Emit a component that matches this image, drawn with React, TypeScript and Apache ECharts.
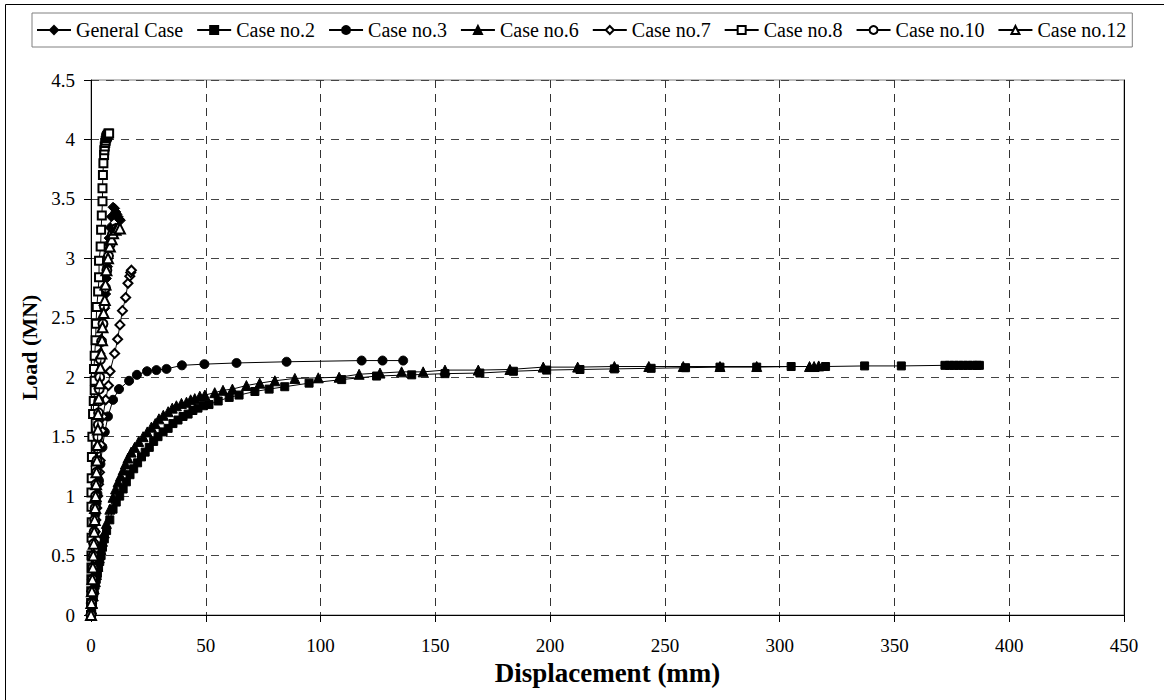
import React, { useEffect, useRef } from "react";
import * as echarts from "echarts";

const FONT = "'Liberation Serif','Times New Roman',serif";

const seriesNames = [
  "General Case",
  "Case no.2",
  "Case no.3",
  "Case no.6",
  "Case no.7",
  "Case no.8",
  "Case no.10",
  "Case no.12",
];

const seriesSymbols = [
  "diamond",
  "rect",
  "circle",
  "triangle",
  "emptyDiamond",
  "emptyRect",
  "emptyCircle",
  "emptyTriangle",
];

const seriesSymbolSizes = [10, 8, 9, 10, 9, 8, 9, 10];

const xTicks = { min: 0, max: 450, interval: 50 };
const yTicks = { min: 0, max: 4.5, interval: 0.5 };

const generalCase = [
  [0, 0], [0.2, 0.1], [0.4, 0.2], [0.6, 0.3], [0.8, 0.4], [1.0, 0.5], [1.2, 0.6], [1.4, 0.7],
  [1.6, 0.8], [1.8, 0.9], [2.0, 1.0], [2.2, 1.1], [2.4, 1.2], [2.6, 1.3], [2.8, 1.4], [3.0, 1.5],
  [3.1, 1.6], [3.2, 1.7], [3.3, 1.81], [3.4, 1.93], [3.6, 2.06], [3.9, 2.2], [4.4, 2.32],
  [5.2, 2.44], [6.0, 2.58], [6.4, 2.7], [6.7, 2.83], [7.2, 2.93], [7.5, 3.07], [7.9, 3.17],
  [8.3, 3.26], [8.9, 3.35], [9.6, 3.43], [10.3, 3.42], [10.8, 3.39], [11.3, 3.37], [11.8, 3.35],
  [12.3, 3.33], [12.8, 3.32],
];

const case2 = [
  [0, 0], [0.3, 0.05], [0.6, 0.1], [1.0, 0.15], [1.4, 0.2], [1.8, 0.25], [2.3, 0.3], [2.8, 0.35],
  [3.3, 0.4], [3.8, 0.45], [4.4, 0.5], [5.0, 0.57], [5.8, 0.64], [6.8, 0.71], [8.2, 0.8],
  [9.6, 0.89], [11, 0.95], [12.5, 1.0], [14, 1.06], [15.4, 1.12], [17, 1.18], [18.6, 1.23],
  [20.3, 1.28], [22, 1.33], [23.6, 1.37], [25.4, 1.41], [27.3, 1.46], [29.2, 1.5], [31.4, 1.54],
  [33.6, 1.57], [35.7, 1.61], [37.9, 1.64], [40.1, 1.67], [42.3, 1.69], [44.4, 1.72],
  [46.6, 1.74], [49, 1.76], [51.4, 1.77], [55.4, 1.8], [60.2, 1.83], [64.5, 1.85], [71.4, 1.88],
  [77.6, 1.9], [84.4, 1.92], [95, 1.95], [109.2, 1.98], [124.4, 2.01], [139.7, 2.02],
  [154.2, 2.03], [169.4, 2.035], [184, 2.05], [198.5, 2.06], [213, 2.065], [228, 2.07],
  [244, 2.075], [259, 2.08], [274, 2.085], [290, 2.085], [305, 2.09], [320, 2.09], [337, 2.095],
  [353, 2.095], [372, 2.1], [374, 2.1], [376, 2.1], [378, 2.1], [380, 2.1], [382, 2.1],
  [384, 2.1], [386, 2.1], [387, 2.1],
];

const case3 = [
  [0, 0], [0.2, 0.1], [0.4, 0.2], [0.6, 0.3], [0.8, 0.4], [1.0, 0.5], [1.3, 0.6], [1.6, 0.7],
  [1.8, 0.78], [2.0, 0.85], [2.4, 0.94], [2.8, 1.02], [3.5, 1.13], [4.1, 1.27], [5.0, 1.41],
  [6.0, 1.54], [7.4, 1.67], [9.6, 1.81], [12.2, 1.9], [16.6, 1.97], [20, 2.02], [24.4, 2.05],
  [28.5, 2.06], [32.9, 2.07], [39.6, 2.1], [49.4, 2.11], [63.4, 2.12], [85.2, 2.13],
  [117.9, 2.14], [127, 2.14], [136, 2.14],
];

const case6 = [
  [0, 0], [0.3, 0.05], [0.6, 0.1], [1.0, 0.16], [1.4, 0.22], [1.9, 0.28], [2.4, 0.34], [3.0, 0.41],
  [3.6, 0.48], [4.3, 0.55], [5.0, 0.62], [5.8, 0.69], [6.7, 0.77], [8.2, 0.89], [9.6, 0.99],
  [10.7, 1.06], [11.8, 1.12], [12.9, 1.17], [14, 1.22], [15, 1.27], [16.1, 1.32], [17.5, 1.37],
  [19, 1.41], [20.8, 1.46], [22.7, 1.5], [24.5, 1.54], [26.3, 1.58], [28, 1.61], [29.6, 1.65],
  [31.5, 1.68], [33.6, 1.71], [35.4, 1.74], [37.2, 1.76], [39.4, 1.78], [41.6, 1.79],
  [43.4, 1.81], [45.2, 1.82], [47.4, 1.84], [49.6, 1.85], [53.9, 1.87], [57.5, 1.89],
  [61.6, 1.9], [67.7, 1.93], [73.5, 1.95], [80.1, 1.97], [88.8, 1.99], [99, 1.995], [108.1, 2.0],
  [116.8, 2.025], [125.9, 2.035], [135.3, 2.045], [144.7, 2.045], [154.2, 2.06], [168.7, 2.06],
  [182.5, 2.065], [197, 2.085], [212, 2.085], [228, 2.09], [243, 2.09], [258, 2.09], [274, 2.09],
  [290, 2.09], [313, 2.09], [315, 2.09], [317, 2.095],
];

const case7 = [
  [0, 0], [0.2, 0.1], [0.4, 0.2], [0.7, 0.3], [0.9, 0.4], [1.2, 0.5], [1.5, 0.6], [1.8, 0.7],
  [2.1, 0.8], [2.5, 0.9], [2.9, 1.0], [3.3, 1.1], [3.7, 1.2], [4.0, 1.3], [4.4, 1.43],
  [4.8, 1.55], [5.2, 1.67], [6.4, 1.81], [7.6, 1.93], [8.3, 2.05], [10.3, 2.2], [11.6, 2.32],
  [12.6, 2.44], [13.7, 2.56], [15.1, 2.67], [16.1, 2.79], [16.9, 2.85], [17.3, 2.88],
  [17.6, 2.9],
];

const case8 = [
  [0, 0], [0.05, 0.1], [0.1, 0.2], [0.15, 0.3], [0.2, 0.4], [0.2, 0.5], [0.25, 0.65], [0.3, 0.78],
  [0.2, 0.91], [0.2, 1.03], [0.3, 1.15], [0.4, 1.33], [0.6, 1.5], [0.9, 1.69], [1.2, 1.8],
  [1.6, 1.89], [1.6, 1.97], [1.3, 2.07], [1.6, 2.18], [2.0, 2.31], [2.2, 2.45], [2.5, 2.59],
  [3.1, 2.72], [3.5, 2.84], [3.5, 2.98], [4.2, 3.1], [4.4, 3.24], [4.7, 3.36], [5.0, 3.48],
  [5.0, 3.59], [5.2, 3.7], [5.4, 3.8], [5.7, 3.87], [5.8, 3.91], [6.0, 3.94], [6.2, 3.97],
  [6.4, 3.99], [6.6, 4.01], [6.8, 4.02], [7.0, 4.03], [7.3, 4.04], [7.6, 4.05], [7.9, 4.05],
];

const case10 = [
  [0, 0], [0.2, 0.1], [0.4, 0.2], [0.6, 0.3], [0.8, 0.4], [1.0, 0.5], [1.2, 0.6], [1.4, 0.7],
  [1.6, 0.8], [1.8, 0.9], [2.0, 1.0], [2.2, 1.1], [2.4, 1.2], [2.6, 1.3], [2.8, 1.4], [3.0, 1.5],
  [3.2, 1.6], [3.3, 1.7], [3.4, 1.8], [3.6, 1.9], [3.8, 2.0], [4.1, 2.15], [4.6, 2.3],
  [5.2, 2.45], [5.8, 2.6], [6.3, 2.75], [6.9, 2.9], [7.6, 3.02], [8.4, 3.12], [9.3, 3.2],
  [10.2, 3.24], [11.0, 3.25],
];

const case12 = [
  [0, 0], [0.2, 0.1], [0.4, 0.2], [0.6, 0.3], [0.8, 0.4], [1.0, 0.5], [1.2, 0.6], [1.4, 0.7],
  [1.6, 0.8], [1.8, 0.9], [2.0, 1.0], [2.2, 1.1], [2.4, 1.2], [2.6, 1.3], [2.8, 1.43],
  [3.0, 1.56], [3.1, 1.69], [3.4, 1.82], [3.8, 1.95], [4.1, 2.08], [4.5, 2.2], [4.8, 2.31],
  [5.0, 2.42], [5.5, 2.54], [6.0, 2.65], [6.3, 2.78], [6.7, 2.9], [7.4, 3.0], [8.2, 3.1],
  [9.0, 3.16], [9.6, 3.21], [10.7, 3.24], [11.8, 3.26], [12.6, 3.25],
];

const seriesData = [generalCase, case2, case3, case6, case7, case8, case10, case12];

export default function App() {
  const ref = useRef<HTMLDivElement>(null);

  useEffect(() => {
    if (!ref.current) return;
    const chart = echarts.init(ref.current, null, { renderer: "svg" });

    const series = seriesNames.map((name, i) => ({
      name,
      type: "line",
      data: seriesData[i],
      symbol: seriesSymbols[i],
      symbolSize: seriesSymbolSizes[i],
      showAllSymbol: true,
      lineStyle: { color: "#000", width: 1 },
      itemStyle: { color: "#000", borderColor: "#000", borderWidth: 1 },
      emphasis: { disabled: true },
      z: 3 + i,
    }));

    chart.setOption({
      animation: false,
      backgroundColor: "#fff",
      textStyle: { fontFamily: FONT },
      graphic: [
        {
          type: "rect",
          shape: { x: 5.5, y: 4.5, width: 1300, height: 900 },
          style: { fill: "none", stroke: "#000", lineWidth: 1 },
          silent: true,
        },
      ],
      legend: {
        data: seriesNames,
        left: 32,
        top: 13,
        orient: "horizontal",
        itemWidth: 34,
        itemHeight: 10,
        itemGap: 13,
        padding: [7, 6, 7, 4],
        borderColor: "#808080",
        borderWidth: 1,
        textStyle: { fontFamily: FONT, fontSize: 20, color: "#000" },
        selectedMode: false,
      },
      grid: {
        left: 91,
        top: 80,
        width: 1033,
        height: 535,
        show: true,
        borderColor: "#808080",
        borderWidth: 1,
        backgroundColor: "transparent",
      },
      xAxis: {
        type: "value",
        min: xTicks.min,
        max: xTicks.max,
        interval: xTicks.interval,
        name: "Displacement (mm)",
        nameLocation: "middle",
        nameGap: 37,
        nameTextStyle: { fontFamily: FONT, fontSize: 27, fontWeight: "bold", color: "#000" },
        axisLine: { show: true, onZero: false, lineStyle: { color: "#000", width: 1 } },
        axisTick: { show: true, inside: false, length: 7, lineStyle: { color: "#000" } },
        axisLabel: { fontFamily: FONT, fontSize: 19, color: "#000", margin: 21 },
        splitLine: { show: true, lineStyle: { color: "#333", type: [8, 6], width: 1 } },
      },
      yAxis: [
        {
          type: "value",
          min: yTicks.min,
          max: yTicks.max,
          interval: yTicks.interval,
          name: "Load (MN)",
          nameLocation: "middle",
          nameGap: 44,
          nameRotate: 90,
          nameTextStyle: { fontFamily: FONT, fontSize: 22, fontWeight: "bold", color: "#000" },
          axisLine: { show: true, onZero: false, lineStyle: { color: "#000", width: 1 } },
          axisTick: { show: true, inside: false, length: 7, lineStyle: { color: "#000" } },
          axisLabel: { fontFamily: FONT, fontSize: 19, color: "#000", margin: 16 },
          splitLine: { show: true, lineStyle: { color: "#444", type: [8, 7], width: 1 } },
        },
        {
          type: "value",
          position: "right",
          min: yTicks.min,
          max: yTicks.max,
          interval: yTicks.interval,
          axisLine: { show: true, onZero: false, lineStyle: { color: "#000", width: 1 } },
          axisTick: { show: false },
          axisLabel: { show: false },
          splitLine: { show: false },
        },
      ],
      series,
    });

    return () => chart.dispose();
  }, []);

  return (
    <div
      ref={ref}
      style={{ position: "absolute", left: 0, top: 0, width: 1164, height: 700, background: "#fff" }}
    />
  );
}
